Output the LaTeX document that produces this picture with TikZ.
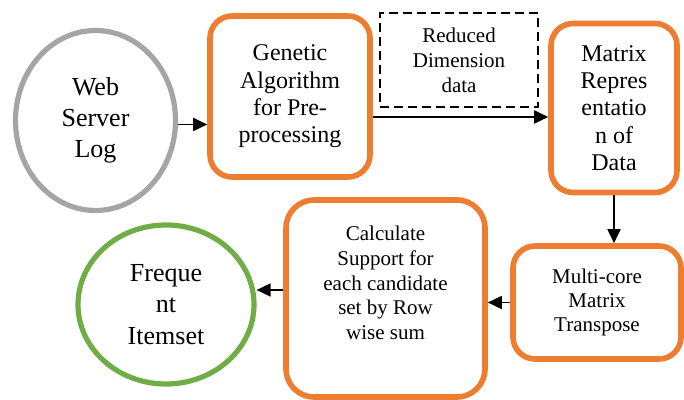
\documentclass[tikz,border=0pt]{standalone}
\usepackage{fontspec}
\setmainfont{Liberation Serif}
\usetikzlibrary{arrows.meta, shapes.geometric, positioning, calc}

\definecolor{boxorange}{HTML}{ED7D31}
\definecolor{loggray}{HTML}{A5A5A5}
\definecolor{setgreen}{HTML}{70AD47}

\begin{document}
\begin{tikzpicture}[x=0.5pt, y=-0.5pt, >={Triangle[length=7pt,width=6.5pt]},
    proc/.style={draw=boxorange, line width=2.8pt, rounded corners=11pt, align=center, inner sep=0pt},
    term/.style={ellipse, line width=2.6pt, align=center, inner sep=0pt},
    flow/.style={->, line width=0.9pt}]
  \useasboundingbox (0,0) rectangle (684,400);

  \node[term, draw=loggray, minimum width=80pt, minimum height=90pt,
    font=\fontsize{13}{15.5}\selectfont] (weblog) at (95.5,120.5) {Web\\Server\\Log};
  \node[proc, minimum width=80pt, minimum height=80.5pt,
    font=\fontsize{12}{13.7}\selectfont] (genetic) at (290,96.5) {Genetic\\Algorithm\\for Pre-\\processing};
  \node[draw, line width=1.4pt, dash pattern=on 4.5pt off 2.5pt, minimum width=79pt, minimum height=47pt,
    align=center, font=\fontsize{10.5}{12.5}\selectfont] (reduced) at (459,60) {Reduced\\Dimension\\data};
  \node[proc, minimum width=63pt, minimum height=84.5pt,
    font=\fontsize{12}{13.7}\selectfont] (matrix) at (614,108) {Matrix\\Repres\\entatio\\n of\\Data};
  \node[proc, minimum width=84pt, minimum height=56.5pt,
    font=\fontsize{10.5}{12.2}\selectfont] (transp) at (597,302.5) {Multi-core\\Matrix\\Transpose};
  \node[proc, minimum width=99.5pt, minimum height=98.5pt, rounded corners=14pt] (calcbox) at (385.5,298.5) {};
  \node[align=center, inner sep=0pt, font=\fontsize{10.5}{12.3}\selectfont] (calctext) at (385.5,283)
    {Calculate\\Support for\\each candidate\\set by Row\\wise sum};
  \node[term, draw=setgreen, minimum width=88pt, minimum height=79.5pt,
    font=\fontsize{13}{15.8}\selectfont] (freq) at (166,304.5) {Freque\\nt\\Itemset};

  \draw[flow] ($(weblog.east)+(0,4)$) coordinate (w1) -- (w1 -| genetic.west);
  \draw[flow] ($(genetic.east)+(0,20.5)$) coordinate (g1) -- (g1 -| matrix.west);
  \draw[flow] (matrix.south) -- (matrix.south |- transp.north);
  \draw[flow] (transp.west) -- (transp.west -| calcbox.east);
  \draw[flow] ($(calcbox.west)+(0,-8.5)$) coordinate (c1) -- (c1 -| freq.east);
\end{tikzpicture}
\end{document}
